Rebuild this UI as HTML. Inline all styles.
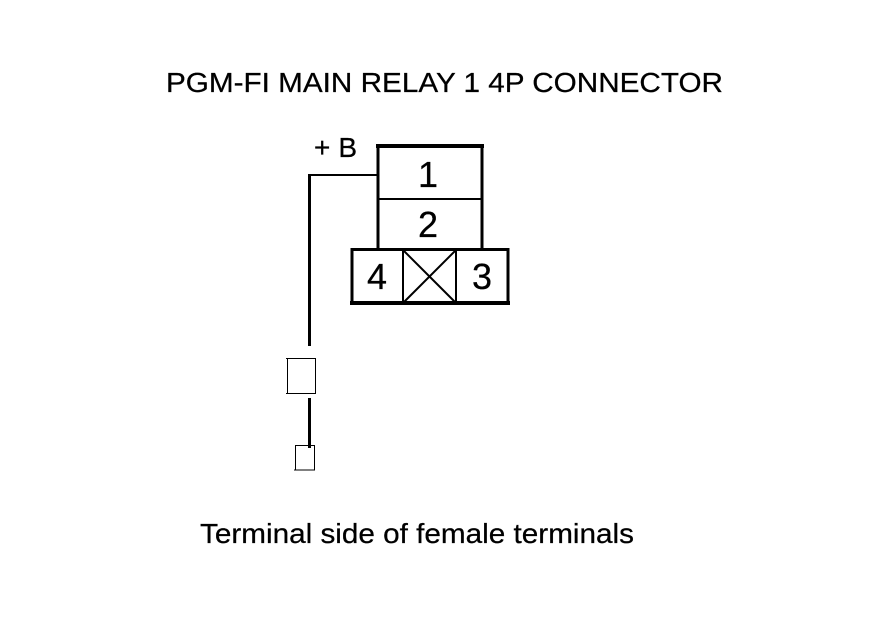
<!DOCTYPE html>
<html>
<head>
<meta charset="utf-8">
<style>
html,body{margin:0;padding:0;background:#fff;}
svg{display:block;}
text{font-family:"Liberation Sans",Arial,sans-serif;fill:#000;stroke:#000;stroke-width:0.25px;}
</style>
</head>
<body>
<svg width="880" height="630" viewBox="0 0 880 630" xmlns="http://www.w3.org/2000/svg" shape-rendering="crispEdges">
<rect width="880" height="630" fill="#fff"/>
<text x="166" y="92" font-size="28" textLength="557" lengthAdjust="spacingAndGlyphs">PGM-FI MAIN RELAY 1 4P CONNECTOR</text>
<text x="314" y="157" font-size="28" textLength="43" lengthAdjust="spacing">+ B</text>
<text x="200" y="543" font-size="28" textLength="434" lengthAdjust="spacingAndGlyphs">Terminal side of female terminals</text>

<!-- upper body -->
<path d="M378 250V146" fill="none" stroke="#000" stroke-width="3"/>
<path d="M482 250V146" fill="none" stroke="#000" stroke-width="3"/>
<path d="M376 146H484" fill="none" stroke="#000" stroke-width="4"/>
<path d="M378 199H482" stroke="#000" stroke-width="2" fill="none"/>
<!-- lower body -->
<rect x="352" y="249.500" width="156" height="53.500" fill="#fff" stroke="#000" stroke-width="3"/>
<path d="M350 303H510" stroke="#000" stroke-width="4" fill="none"/>
<path d="M403 250V303M456 250V303" stroke="#000" stroke-width="2" fill="none"/>
<path d="M403 250L456 303M456 250L403 303" stroke="#000" stroke-width="2" fill="none" shape-rendering="auto"/>

<text x="428" y="187" font-size="36" text-anchor="middle">1</text>
<text x="428" y="237" font-size="36" text-anchor="middle">2</text>
<text x="377" y="289" font-size="36" text-anchor="middle">4</text>
<text x="482" y="289" font-size="36" text-anchor="middle">3</text>

<!-- wire -->
<path d="M378 175H309" fill="none" stroke="#000" stroke-width="2"/>
<path d="M309.500 174V346" fill="none" stroke="#000" stroke-width="3"/>
<rect x="287.500" y="358.500" width="28" height="35" fill="#fff" stroke="#000" stroke-width="1"/>
<path d="M286 358.500H316M286 393.500H316" fill="none" stroke="#000" stroke-width="1"/>
<path d="M309.500 398V448" fill="none" stroke="#000" stroke-width="3"/>
<rect x="295.500" y="445.500" width="19" height="24.500" fill="none" stroke="#000" stroke-width="1"/>
<path d="M294 470H315" fill="none" stroke="#000" stroke-width="1"/>
</svg>
</body>
</html>
